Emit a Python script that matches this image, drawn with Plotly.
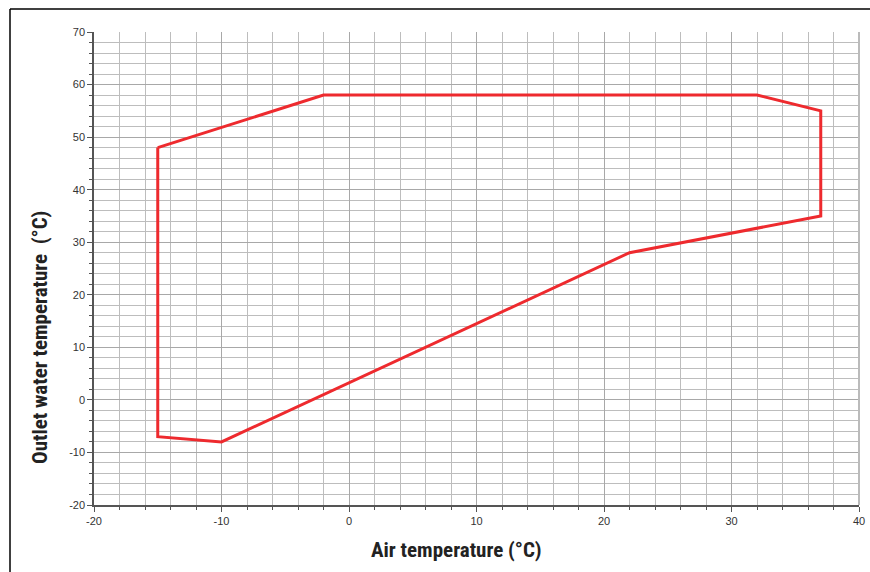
import plotly.graph_objects as go

air_temp = [-15, -2, 32, 37, 37, 22, -10, -15, -15]
water_temp = [48, 58, 58, 55, 35, 28, -8, -7, 48]

x_ticks = [-20, -10, 0, 10, 20, 30, 40]
x_labels = ["-20", "-10", "0", "10", "20", "30", "40"]
y_ticks = [-20, -10, 0, 10, 20, 30, 40, 50, 60, 70]
y_labels = ["-20", "-10", "0", "10", "20", "30", "40", "50", "60", "70"]

x_title = "Air temperature (°C)"
y_title = "Outlet water temperature  (°C)"

fig = go.Figure()
fig.add_trace(go.Scatter(x=air_temp, y=water_temp, mode="lines",
                         line=dict(color="#ee2a2e", width=3), showlegend=False,
                         hoverinfo="skip"))

title_font = dict(family="Liberation Sans Narrow, Roboto Condensed, Arial Narrow, sans-serif",
                  size=21, color="#222222")
tick_font = dict(family="Liberation Sans, Arial, sans-serif", size=11, color="#333333")

common = dict(ticks="outside", ticklen=5, tickcolor="#555555", linecolor="#555555",
              linewidth=1.5, showline=True, showgrid=True, gridcolor="#a8a8a8",
              gridwidth=1, zeroline=False, automargin=False, tickfont=tick_font,
              minor=dict(dtick=2, showgrid=True, gridcolor="#bdbdbd", gridwidth=1,
                         ticks="outside", ticklen=3, tickcolor="#555555"))

fig.update_xaxes(range=[-20, 40], tickvals=x_ticks, ticktext=x_labels, **common)
fig.update_yaxes(range=[-20, 70], tickvals=y_ticks, ticktext=y_labels, **common)

W, H = 870, 572
L, R, T, B = 94, 11, 32, 67
pw, ph = W - L - R, H - T - B


def px(x):
    return (x - L) / pw


def py(y):
    return (H - B - y) / ph


fig.update_layout(
    width=W, height=H,
    margin=dict(l=L, r=R, t=T, b=B),
    plot_bgcolor="white", paper_bgcolor="white",
    annotations=[
        dict(text="<b>" + x_title + "</b>", xref="paper", yref="paper",
             x=px(456), y=py(550), xanchor="center", yanchor="middle",
             showarrow=False, font=title_font),
        dict(text="<b>" + y_title + "</b>", xref="paper", yref="paper",
             x=px(40), y=py(338), xanchor="center", yanchor="middle",
             textangle=-90, showarrow=False, font=title_font),
    ],
    shapes=[
        dict(type="line", xref="paper", yref="paper",
             x0=px(10), x1=px(870), y0=py(9), y1=py(9),
             line=dict(color="black", width=1.5)),
        dict(type="line", xref="paper", yref="paper",
             x0=px(10), x1=px(10), y0=py(9), y1=py(572),
             line=dict(color="black", width=1.5)),
        dict(type="line", xref="paper", yref="paper",
             x0=1, x1=1, y0=0, y1=1, line=dict(color="#bbbbbb", width=2)),
    ],
)

fig.write_html("out.html")
